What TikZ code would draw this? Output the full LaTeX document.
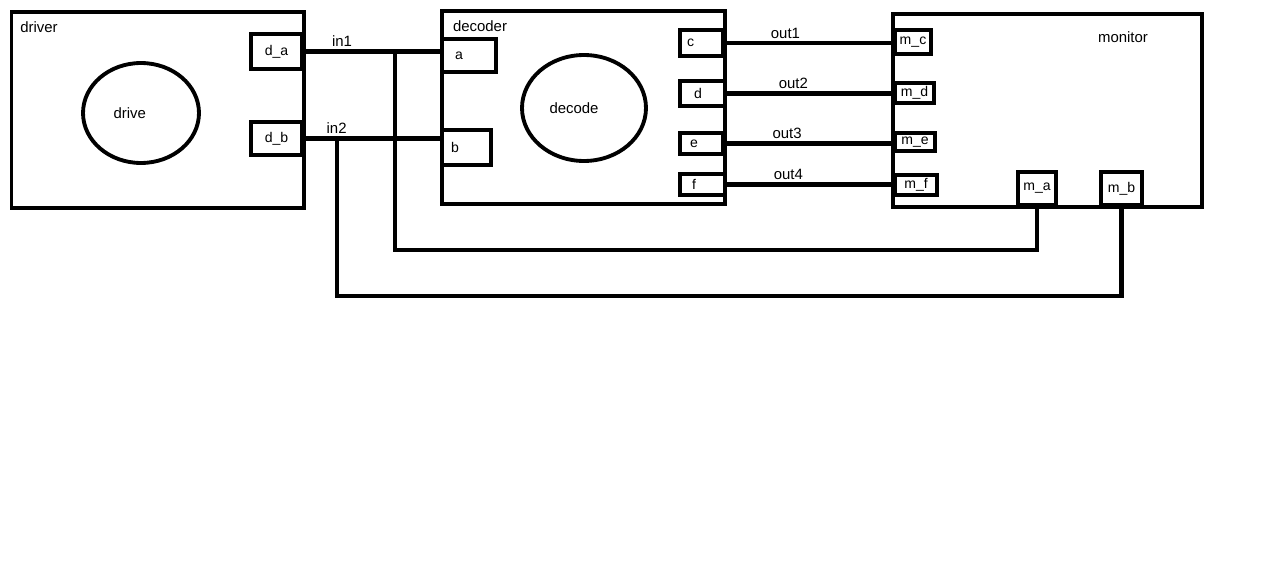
\documentclass[tikz,border=0pt]{standalone}
\usepackage{fontspec}
\setmainfont{Liberation Sans}
\usetikzlibrary{shapes,positioning,calc}

\begin{document}
\begin{tikzpicture}[
    x=0.02cm, y=-0.02cm,
    block/.style={rectangle, draw, line width=2.2pt, inner sep=0pt},
    port/.style={rectangle, draw, line width=2.2pt, inner sep=0pt, font=\fontsize{8}{9.5}\selectfont},
    lport/.style={port, text width=#1, align=left},
    proc/.style={ellipse, draw, line width=2.2pt, inner sep=0pt, text width=#1, align=left},
    wire/.style={line width=2.5pt},
    sig/.style={inner sep=1.5pt},
    title/.style={inner sep=0pt},
    font=\fontsize{8.5}{10}\selectfont
]
    \useasboundingbox (0,0) rectangle (1275,571);

    % Driver
    \node[block, minimum width=5.85cm, minimum height=3.92cm] (driver) at (157.75,110) {};
    \node[title] (drivertitle) at (39,27) {driver};
    \node[proc=1.1cm, minimum width=2.32cm, minimum height=2cm] (drive) at (141,113) {drive};
    \node[port, minimum width=1.02cm, minimum height=0.7cm] (da) at (276.5,51.5) {d\_a};
    \node[port, minimum width=1.02cm, minimum height=0.66cm] (db) at (276.5,138.5) {d\_b};

    % Decoder
    \node[block, minimum width=5.66cm, minimum height=3.86cm] (decoder) at (583.5,107.5) {};
    \node[title] (decodertitle) at (480,26) {decoder};
    \node[proc=1.38cm, minimum width=2.48cm, minimum height=2.12cm] (decode) at (584,108) {decode};
    \node[lport=0.56cm, minimum width=1.08cm, minimum height=0.66cm] (a) at (469,55.5) {a};
    \node[lport=0.62cm, minimum width=0.98cm, minimum height=0.7cm] (b) at (466.5,147.5) {b};
    \node[lport=0.58cm, minimum width=0.86cm, minimum height=0.52cm] (c) at (701.5,43) {c};
    \node[lport=0.34cm, minimum width=0.9cm, minimum height=0.5cm] (d) at (702.5,93.5) {d};
    \node[lport=0.46cm, minimum width=0.86cm, minimum height=0.42cm] (e) at (701.5,143.5) {e};
    \node[lport=0.42cm, minimum width=0.9cm, minimum height=0.42cm] (f) at (702.5,184.5) {f};

    % Monitor
    \node[block, minimum width=6.18cm, minimum height=3.86cm] (monitor) at (1047.5,110.5) {};
    \node[title] (monitortitle) at (1123,37) {monitor};
    \node[port, minimum width=0.72cm, minimum height=0.48cm] (mc) at (913,42) {m\_c};
    \node[port, minimum width=0.78cm, minimum height=0.4cm] (md) at (914.5,93) {m\_d};
    \node[port, minimum width=0.8cm, minimum height=0.36cm] (me) at (915,142) {m\_e};
    \node[port, minimum width=0.84cm, minimum height=0.4cm] (mf) at (916,185) {m\_f};
    \node[port, minimum width=0.76cm, minimum height=0.66cm] (ma) at (1037,188.5) {m\_a};
    \node[port, minimum width=0.82cm, minimum height=0.66cm] (mb) at (1121.5,188.5) {m\_b};

    % driver to decoder
    \draw[wire] (da.east) -- node[sig, above, pos=0.28] {in1} (da.east -| a.west);
    \draw[wire] (db.east) -- node[sig, above, pos=0.24] {in2} (db.east -| b.west);

    % decoder to monitor
    \draw[wire] (c.east) -- node[sig, above, pos=0.36] {out1} (c.east -| mc.west);
    \draw[wire] (d.east) -- node[sig, above, pos=0.4] {out2} (d.east -| md.west);
    \draw[wire] (e.east) -- node[sig, above, pos=0.37] {out3} (e.east -| me.west);
    \draw[wire] (f.east) -- node[sig, above, pos=0.37] {out4} (f.east -| mf.west);

    % inputs back to monitor
    \coordinate (bus1) at (395,250);
    \coordinate (bus2) at (337,296);
    \draw[wire] (ma.south) |- (bus1) -- (bus1 |- da.east);
    \draw[wire] (mb.south) |- (bus2) -- (bus2 |- db.east);
\end{tikzpicture}
\end{document}
